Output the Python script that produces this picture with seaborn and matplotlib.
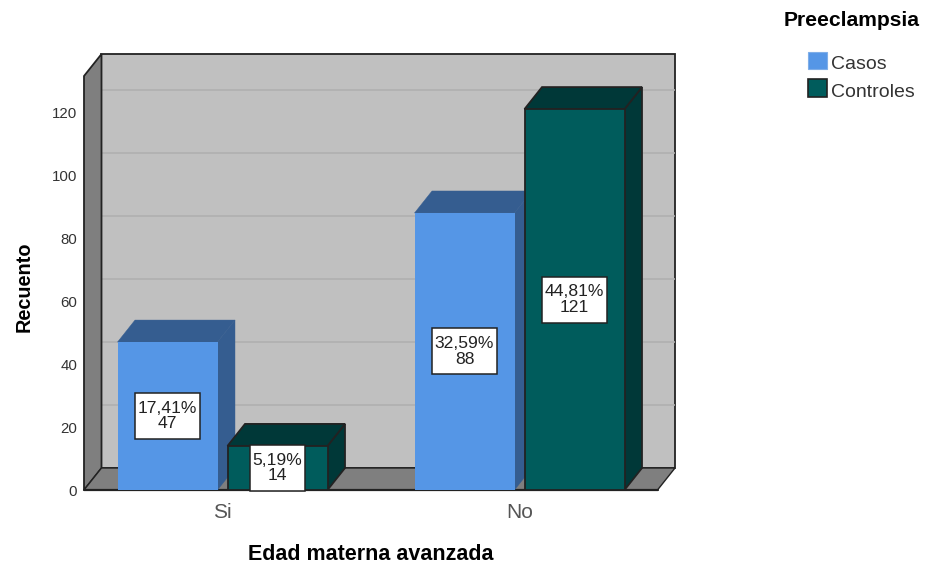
import matplotlib
matplotlib.use("Agg")
import matplotlib.pyplot as plt
from matplotlib.patches import Polygon, Patch, Rectangle
from matplotlib.transforms import IdentityTransform
import pandas as pd
import seaborn as sns

categories = ["Si", "No"]
groups = ["Casos", "Controles"]
casos = [47, 88]
controles = [14, 121]
pct_casos = ["17,41%", "32,59%"]
pct_controles = ["5,19%", "44,81%"]
yticks = [0, 20, 40, 60, 80, 100, 120]

BLUE, BLUE_D = "#5596E6", "#355D90"
TEAL, TEAL_D = "#005C5C", "#003838"
WALL, SIDE, GRID = "#C0C0C0", "#7F7F7F", "#B0B0B0"
LINE = "#222222"

sns.set_theme(style="white")
plt.rcParams["font.family"] = ["Liberation Sans", "DejaVu Sans"]

W, H = 926, 567
L, R, T, B = 84, 675, 53, 490
PX_X, PX_Y = 297.0, 3.148   # pixels per category / per count
X0 = 222.5

fig = plt.figure(figsize=(W / 100, H / 100), dpi=100)
ax = fig.add_axes([L / W, 1 - B / H, (R - L) / W, (B - T) / H])

df = pd.DataFrame({
    "cat": categories * 2,
    "grp": [groups[0]] * 2 + [groups[1]] * 2,
    "n": casos + controles,
})
sns.barplot(data=df, x="cat", y="n", hue="grp", order=categories, hue_order=groups,
            palette=[BLUE, TEAL], width=220 / PX_X, gap=10 / 110, saturation=1,
            legend=False, ax=ax, linewidth=0)

ax.set_xlim((L - X0) / PX_X, (R - X0) / PX_X)
ax.set_ylim(0, (B - T) / PX_Y)
dx, dy = 17.5 / PX_X, 22 / PX_Y
xl, xr = ax.get_xlim()
x_front_r = xr - dx
wall_top = 131.5

# walls and floor
ax.add_patch(Polygon([(xl + dx, 0 + dy), (xr, dy), (xr, wall_top + dy), (xl + dx, wall_top + dy)],
                     fc=WALL, ec=LINE, lw=1.3, zorder=0.5, clip_on=False))
ax.add_patch(Polygon([(xl, 0), (xl + dx, dy), (xl + dx, wall_top + dy), (xl, wall_top)],
                     fc=SIDE, ec=LINE, lw=1.3, zorder=0.6, clip_on=False))
ax.add_patch(Polygon([(xl, 0), (x_front_r, 0), (xr, dy), (xl + dx, dy)],
                     fc=SIDE, ec=LINE, lw=1.0, zorder=0.6, clip_on=False))
for v in yticks[1:]:
    ax.plot([xl + dx, xr], [v + dy, v + dy], color=GRID, lw=1.2, zorder=0.55)
ax.plot([xl, x_front_r], [0, 0], color=LINE, lw=1.6, zorder=0.7, clip_on=False)

# 3D faces for each bar, back to front
labels = []
z = 1.0
for i in range(len(categories)):
    for container, fc, dark, edged, texts, vals in (
        (ax.containers[0], BLUE, BLUE_D, False, pct_casos, casos),
        (ax.containers[1], TEAL, TEAL_D, True, pct_controles, controles),
    ):
        bar = container[i]
        x0, x1, h = bar.get_x(), bar.get_x() + bar.get_width(), bar.get_height()
        ec = LINE if edged else dark
        lw = 1.3 if edged else 0.3
        ax.add_patch(Polygon([(x1, 0), (x1 + dx, dy), (x1 + dx, h + dy), (x1, h)],
                             fc=dark, ec=ec, lw=lw, zorder=z))
        ax.add_patch(Polygon([(x0, h), (x1, h), (x1 + dx, h + dy), (x0 + dx, h + dy)],
                             fc=dark, ec=ec, lw=lw, zorder=z))
        bar.set_zorder(z + 0.1)
        bar.set_facecolor(fc)
        bar.set_edgecolor(LINE if edged else fc)
        bar.set_linewidth(1.3 if edged else 0)
        labels.append(ax.text((x0 + x1) / 2, h / 2, f"{texts[i]}\n{vals[i]}", ha="center",
                              va="center", fontsize=12.6, color="#222222", linespacing=1.03,
                              zorder=21))
        z += 1

sns.despine(ax=ax, left=True, bottom=True)
ax.patch.set_visible(False)
ax.grid(False)
ax.set_yticks(yticks)
ax.tick_params(axis="y", length=0, pad=5, labelsize=10.8, labelcolor="#333333")
ax.tick_params(axis="x", length=0, pad=9, labelsize=15, labelcolor="#555555")

ax.set_xlabel("Edad materna avanzada", fontsize=15.5, fontweight="bold", color="black", va="center")
ax.xaxis.set_label_coords((371 - L) / (R - L), (B - 554) / (B - T))
ax.set_ylabel("Recuento", fontsize=14.3, fontweight="bold", color="black", va="center")
ax.yaxis.set_label_coords((24.5 - L) / (R - L), (B - 287) / (B - T))

# white label boxes: text width plus a small margin, fixed height
renderer = fig.canvas.get_renderer()
for t in labels:
    bb = t.get_window_extent(renderer)
    cy = (bb.y0 + bb.y1) / 2
    ax.add_patch(Rectangle((bb.x0 - 3, cy - 23), bb.width + 6, 46, transform=IdentityTransform(),
                           fc="white", ec="#222222", lw=1.1, zorder=20, clip_on=False))

handles = [Patch(fc=BLUE, ec="#7FAEE8", lw=0.8), Patch(fc=TEAL, ec=LINE, lw=1.2)]
leg = fig.legend(handles, groups, loc="upper left", bbox_to_anchor=(800 / W, 1 - 44 / H),
                 frameon=False, fontsize=14, handlelength=1.0, handleheight=1.0,
                 handletextpad=0.2, labelspacing=0.42, borderpad=0.4, borderaxespad=0,
                 labelcolor="#333333")
for txt in leg.get_texts():
    txt.set_y(-2)
fig.text(851.5 / W, 1 - 20 / H, "Preeclampsia", fontsize=15.2, fontweight="bold",
         ha="center", va="center", color="black")

fig.savefig("out.png", dpi=100)
